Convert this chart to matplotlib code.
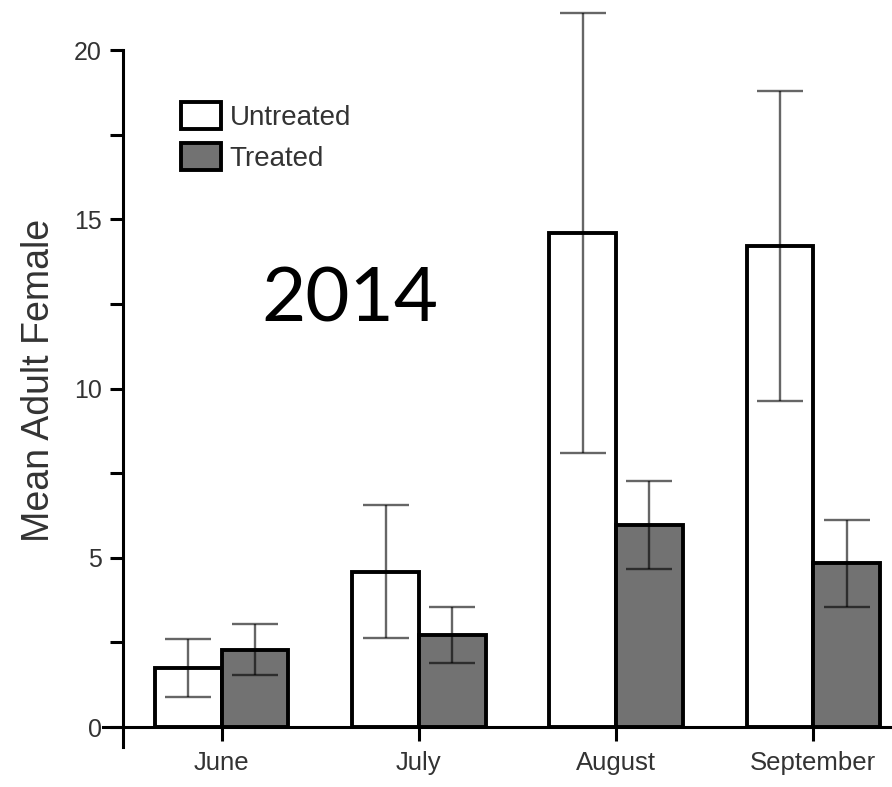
import numpy as np
import matplotlib
matplotlib.use("Agg")
import matplotlib.pyplot as plt

months = ["June", "July", "August", "September"]
untreated = [1.74, 4.59, 14.6, 14.22]
untreated_err = [0.85, 1.96, 6.5, 4.58]
treated = [2.28, 2.72, 5.96, 4.84]
treated_err = [0.75, 0.82, 1.3, 1.28]
yticks = [0, 2.5, 5, 7.5, 10, 12.5, 15, 17.5, 20]

plt.rcParams['font.family'] = ['Liberation Sans', 'DejaVu Sans']
txt = '#333333'

fig = plt.figure(figsize=(8.92, 7.87), dpi=100)
ax = fig.add_axes([103/892, 0.0504, 789/892, 0.9496])

x = np.arange(len(months))
w = 0.338
ax.bar(x - w/2, untreated, w, color='white', edgecolor='black', linewidth=2.8,
       label='Untreated', zorder=2)
ax.bar(x + w/2, treated, w, color='#727272', edgecolor='black', linewidth=2.8,
       label='Treated', zorder=2)

# error bars: translucent black, lighter on white, darker over grey fill
ecol = (0, 0, 0, 0.6)
ax.errorbar(x - w/2, untreated, yerr=untreated_err, fmt='none', ecolor=ecol,
            elinewidth=1.7, capsize=16.5, capthick=1.7, zorder=3)
ax.errorbar(x + w/2, treated, yerr=treated_err, fmt='none', ecolor=ecol,
            elinewidth=1.7, capsize=16.5, capthick=1.7, zorder=3)

ax.set_xlim(-0.602, 3.399)
ax.set_ylim(-0.6, 21.48)

for s in ['top', 'right']:
    ax.spines[s].set_visible(False)
ax.spines['left'].set_position(('data', -0.5))
ax.spines['left'].set_bounds(-0.6, 20)
ax.spines['bottom'].set_position(('data', 0))
ax.spines['left'].set_linewidth(2.2)
ax.spines['bottom'].set_linewidth(2.2)

ax.set_yticks(yticks)
ax.set_yticklabels([f"{int(t)}" if t % 5 == 0 else "" for t in yticks])
ax.set_xticks(x)
ax.set_xticklabels(months)
ax.tick_params(axis='y', direction='out', length=9.5, width=2.2, pad=6,
               labelsize=18, labelcolor=txt)
ax.tick_params(axis='x', direction='out', length=10, width=2.2, pad=7,
               labelsize=18.5, labelcolor=txt)

fig.text(39/892, 1 - 380/787, "Mean Adult Female", fontsize=27, color=txt,
         rotation=90, ha='center', va='center')

ax.legend(loc='upper left', bbox_to_anchor=(167/892, 1 - 88/787),
          bbox_transform=fig.transFigure, frameon=False, fontsize=20,
          handlelength=1.45, handleheight=1.1, handletextpad=0.3,
          labelspacing=0.45, borderpad=0, labelcolor=txt)

fig.text(350/892, 1 - 322/787, "2014", fontsize=55, family='Lato',
         ha='center', va='baseline', color='black')

fig.savefig("out.png", dpi=100)
